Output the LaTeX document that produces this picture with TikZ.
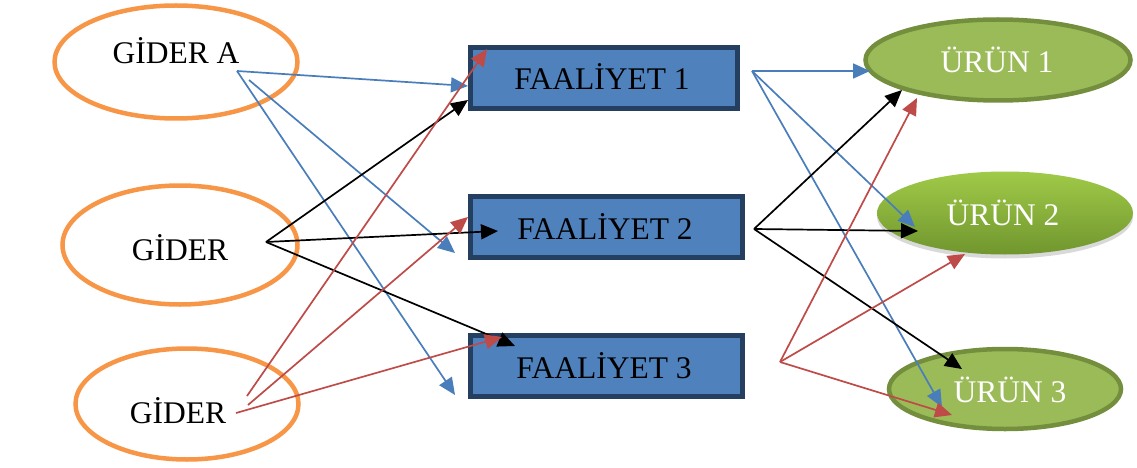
\documentclass[tikz,border=0pt]{standalone}
\usepackage{fontspec}
\setmainfont{Liberation Serif}
\usetikzlibrary{arrows.meta,shapes.geometric,shadows}
\definecolor{gorange}{HTML}{F79646}
\definecolor{fblue}{HTML}{4F81BD}
\definecolor{fborder}{HTML}{243F60}
\definecolor{ugreen}{HTML}{9BBB59}
\definecolor{uborder}{HTML}{738E3C}
\definecolor{ablue}{HTML}{4A7EBB}
\definecolor{ared}{HTML}{BE4B48}
\begin{document}
\begin{tikzpicture}[x=1pt,y=-1pt,
  txt/.style={font=\fontsize{31.5}{36}\selectfont, anchor=base, inner sep=0pt},
  cost/.style={ellipse, draw=gorange, line width=4.5pt, fill=white, inner sep=0pt},
  activity/.style={rectangle, draw=fborder, line width=5pt, fill=fblue, inner sep=0pt},
  product/.style={ellipse, draw=uborder, line width=4.5pt, fill=ugreen, inner sep=0pt},
  conn/.style={-{Triangle[length=17pt,width=15pt]}, line width=1.7pt},
  bl/.style={conn, draw=ablue, fill=ablue},
  rd/.style={conn, draw=ared, fill=ared},
  bk/.style={conn, draw=black, fill=black}
]
\useasboundingbox (0,0) rectangle (1137,468);

% cost pools
\node[cost, minimum width=243pt, minimum height=113pt] (ga) at (176,62) {};
\node[cost, minimum width=235pt, minimum height=119pt] (gb) at (180,245) {};
\node[cost, minimum width=223pt, minimum height=111pt] (gc) at (187,404) {};
\node[txt] (gat) at (176,64) {GİDER A};
\node[txt] (gbt) at (180,260) {GİDER};
\node[txt] (gct) at (178,423) {GİDER};

% activities
\node[activity, minimum width=267pt, minimum height=61pt] (f1) at (604,78) {};
\node[activity, minimum width=272pt, minimum height=61pt] (f2) at (606.5,227) {};
\node[activity, minimum width=272pt, minimum height=61pt] (f3) at (606.5,366) {};
\node[txt] (f1t) at (602,90) {FAALİYET 1};
\node[txt] (f2t) at (605,239) {FAALİYET 2};
\node[txt] (f3t) at (604,378) {FAALİYET 3};

% products
\node[product, minimum width=265pt, minimum height=81pt] (u1) at (998,60) {};
\node[ellipse, inner sep=0pt, minimum width=256pt, minimum height=83pt,
      top color={rgb,255:red,160;green,202;blue,72},
      bottom color={rgb,255:red,112;green,150;blue,46},
      shading angle=0,
      drop shadow={opacity=0.3, shadow xshift=0pt, shadow yshift=-4pt}] (u2) at (1005,213) {};
\node[product, minimum width=232pt, minimum height=80pt] (u3) at (1005,389) {};
\node[txt, text=white] (u1t) at (997,73) {ÜRÜN 1};
\node[txt, text=white] (u2t) at (1003,225) {ÜRÜN 2};
\node[txt, text=white] (u3t) at (1010,402) {ÜRÜN 3};

% connector ends
\coordinate (sA1) at (237,71);
\coordinate (sA2) at (249,80);
\coordinate (sB) at (266,242);
\coordinate (sC1) at (247,396);
\coordinate (sC2) at (248,405);
\coordinate (sC3) at (236,413);
\coordinate (sF1) at (752,71);
\coordinate (sF2) at (754,229);
\coordinate (sF3) at (780,362);

\coordinate (f1a) at (468,86);
\coordinate (f1b) at (468,100);
\coordinate (f1c) at (487,49);
\coordinate (f2a) at (455,253);
\coordinate (f2b) at (498,231);
\coordinate (f2c) at (468,217);
\coordinate (f3a) at (455,395);
\coordinate (f3b) at (515,346);
\coordinate (f3c) at (502,337);

\coordinate (u1a) at (870,71);
\coordinate (u1b) at (902,90);
\coordinate (u1c) at (917,98);
\coordinate (u2a) at (915,227);
\coordinate (u2b) at (918,231);
\coordinate (u2c) at (965,254);
\coordinate (u3a) at (942,407);
\coordinate (u3b) at (962,369);
\coordinate (u3c) at (952,415);

% cost pools -> activities
\draw[bl] (sA1) -- (f1a);
\draw[bl] (sA2) -- (f2a);
\draw[bl] (sA1) -- (f3a);
\draw[bk] (sB) -- (f1b);
\draw[bk] (sB) -- (f2b);
\draw[bk] (sB) -- (f3b);
\draw[rd] (sC1) -- (f1c);
\draw[rd] (sC2) -- (f2c);
\draw[rd] (sC3) -- (f3c);

% activities -> products
\draw[bl] (sF1) -- (u1a);
\draw[bl] (sF1) -- (u2a);
\draw[bl] (sF1) -- (u3a);
\draw[bk] (sF2) -- (u1b);
\draw[bk] (sF2) -- (u2b);
\draw[bk] (sF2) -- (u3b);
\draw[rd] (sF3) -- (u1c);
\draw[rd] (sF3) -- (u2c);
\draw[rd] (sF3) -- (u3c);
\end{tikzpicture}
\end{document}
